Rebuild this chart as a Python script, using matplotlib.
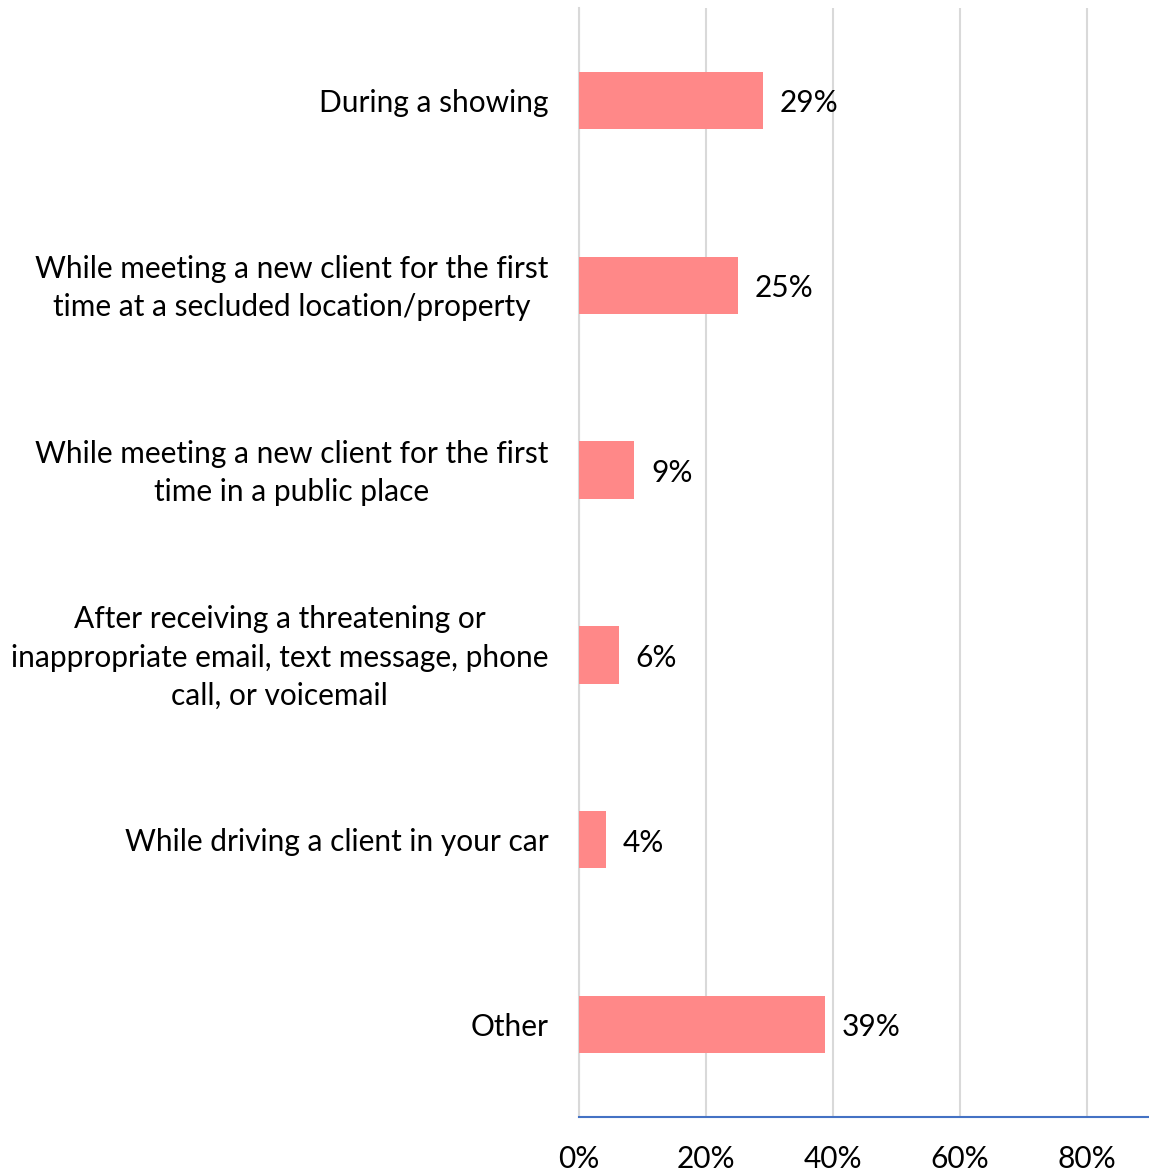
import matplotlib
matplotlib.use("Agg")
import matplotlib.pyplot as plt
from matplotlib.ticker import FixedLocator
from matplotlib.transforms import ScaledTranslation

categories = [
    "During a showing",
    "While meeting a new client for the first\ntime at a secluded location/property",
    "While meeting a new client for the first\ntime in a public place",
    "After receiving a threatening or\ninappropriate email, text message, phone\ncall, or voicemail",
    "While driving a client in your car",
    "Other",
]
values = [29, 25, 8.7, 6.3, 4.3, 38.7]
value_labels = ["29%", "25%", "9%", "6%", "4%", "39%"]
xticks = [0, 20, 40, 60, 80]
xtick_labels = ["0%", "20%", "40%", "60%", "80%"]

plt.rcParams['font.family'] = ['Lato', 'DejaVu Sans']
FS = 21.5

fig = plt.figure(figsize=(11.49, 11.72), dpi=100)
ax = fig.add_axes([579/1149, 1 - 1117/1172, 1 - 579/1149, (1117 - 8)/1172])

ypos = list(range(len(categories)))[::-1]
ax.barh(ypos, values, height=0.31, color="#FF8888", zorder=3)
for y, v, lab in zip(ypos, values, value_labels):
    ax.annotate(lab, (v, y), xytext=(12, -2), textcoords="offset points",
                va="center", ha="left", fontsize=FS, color="#000000")

ax.set_xlim(0, 89.8)
ax.set_ylim(-0.5, 5.5)
ax.set_yticks(ypos)
ax.set_yticklabels(categories, fontsize=FS, multialignment="center", linespacing=1.45)
ax.xaxis.set_major_locator(FixedLocator(xticks))
ax.set_xticklabels(xtick_labels, fontsize=FS)
ax.tick_params(axis="y", length=0, pad=22)
ax.tick_params(axis="x", length=0, pad=20)

shift = ScaledTranslation(0, 5/100, fig.dpi_scale_trans)
for lbl in ax.get_yticklabels():
    if "\n" in lbl.get_text():
        lbl.set_transform(lbl.get_transform() + shift)

ax.grid(axis="x", color="#D9D9D9", linewidth=1.5, zorder=0)
for s in ["top", "right"]:
    ax.spines[s].set_visible(False)
ax.spines["left"].set_color("#D9D9D9")
ax.spines["left"].set_linewidth(1.5)
ax.spines["bottom"].set_color("#4472C4")
ax.spines["bottom"].set_linewidth(1.5)
ax.spines["bottom"].set_zorder(4)

fig.savefig("out.png", dpi=100)
